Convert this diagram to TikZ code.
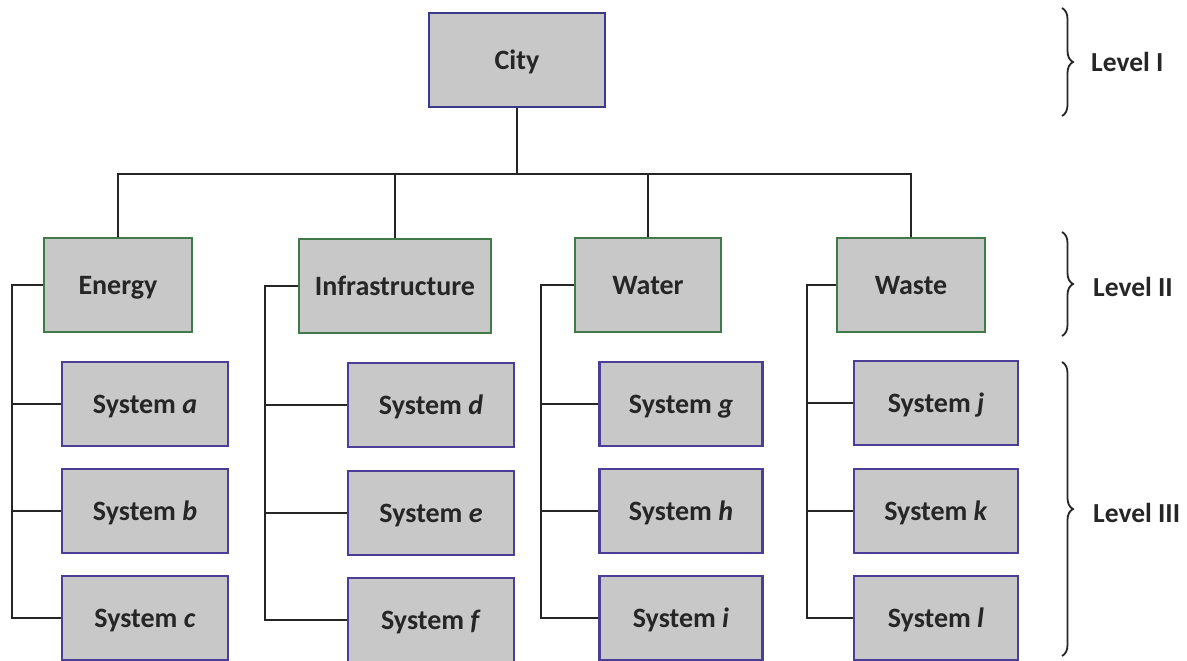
\documentclass[tikz,border=0pt]{standalone}
\usepackage{fontspec}
\setmainfont{Carlito}
\usetikzlibrary{decorations.pathreplacing}
\definecolor{boxfill}{HTML}{C9C8C9}
\definecolor{cityborder}{HTML}{3A3A8A}
\definecolor{lvltwo}{HTML}{3F7A48}
\definecolor{sysborder}{HTML}{4A3E96}
\definecolor{linec}{HTML}{252525}
\tikzset{
  basebox/.style={draw, fill=boxfill, line width=2.2pt, inner sep=0pt, text depth=0pt, font=\fontsize{28}{32}\selectfont\bfseries, text=black!85},
  citybox/.style={basebox, draw=cityborder, minimum width=176pt, minimum height=94pt},
  lvlbox/.style={basebox, draw=lvltwo, minimum height=94pt},
  sysbox/.style={basebox, draw=sysborder, minimum width=166pt, minimum height=84pt},
  conn/.style={draw=linec, line width=2.7pt},
  bracestyle/.style={draw=linec, line width=1.8pt, decorate, decoration={brace, amplitude=11pt}},
  lvllabel/.style={font=\fontsize{27.5}{32}\selectfont\bfseries, text=black!85, anchor=west, inner sep=0pt}
}
\begin{document}
\begin{tikzpicture}[x=1pt,y=-1pt]
\useasboundingbox (0,0) rectangle (1187,661);
% Level I
\node[citybox] (city) at (517,60) {City};
% Level II
\node[lvlbox, minimum width=148pt] (energy) at (118,285) {Energy};
\node[lvlbox, minimum width=192pt] (infra) at (395,286) {Infrastructure};
\node[lvlbox, minimum width=146pt] (water) at (648,285) {Water};
\node[lvlbox, minimum width=148pt] (waste) at (911,285) {Waste};
% Level III
\node[sysbox] (sa) at (145,404) {System \textit{a}};
\node[sysbox] (sb) at (145,511) {System \textit{b}};
\node[sysbox] (sc) at (145,618) {System \textit{c}};
\node[sysbox] (sd) at (431,405) {System \textit{d}};
\node[sysbox] (se) at (431,513) {System \textit{e}};
\node[sysbox] (sf) at (431,620) {System \textit{f}};
\node[sysbox, minimum width=163pt] (sg) at (681,404) {System \textit{g}};
\node[sysbox, minimum width=163pt] (sh) at (681,511) {System \textit{h}};
\node[sysbox, minimum width=163pt] (si) at (681,618) {System \textit{i}};
\node[sysbox, minimum width=164pt] (sj) at (936,403) {System \textit{j}};
\node[sysbox, minimum width=164pt] (sk) at (936,511) {System \textit{k}};
\node[sysbox, minimum width=164pt] (sl) at (936,618) {System \textit{l}};
% coordinates
\coordinate (hub) at (517,174);
\coordinate (bE) at (12,0);
\coordinate (bI) at (265,0);
\coordinate (bW) at (541,0);
\coordinate (bS) at (807,0);
% top tree
\draw[conn] (city.south) -- (hub);
\draw[conn] (energy.north) |- (hub);
\draw[conn] (waste.north) |- (hub);
\draw[conn] (infra.north) -- (infra.north |- hub);
\draw[conn] (water.north) -- (water.north |- hub);
% buses
\draw[conn] (energy.west) -- (bE |- energy.west) -- (bE |- sc.west) -- (sc.west);
\draw[conn] (bE |- sa.west) -- (sa.west);
\draw[conn] (bE |- sb.west) -- (sb.west);
\draw[conn] (infra.west) -- (bI |- infra.west) -- (bI |- sf.west) -- (sf.west);
\draw[conn] (bI |- sd.west) -- (sd.west);
\draw[conn] (bI |- se.west) -- (se.west);
\draw[conn] (water.west) -- (bW |- water.west) -- (bW |- si.west) -- (si.west);
\draw[conn] (bW |- sg.west) -- (sg.west);
\draw[conn] (bW |- sh.west) -- (sh.west);
\draw[conn] (waste.west) -- (bS |- waste.west) -- (bS |- sl.west) -- (sl.west);
\draw[conn] (bS |- sj.west) -- (sj.west);
\draw[conn] (bS |- sk.west) -- (sk.west);
% braces
\coordinate (b1t) at (1062,8);
\coordinate (b1b) at (1062,116);
\coordinate (b2t) at (1062,232);
\coordinate (b2b) at (1062,336);
\coordinate (b3t) at (1062,362);
\coordinate (b3b) at (1062,656);
\draw[bracestyle] (b1t) -- (b1b);
\draw[bracestyle] (b2t) -- (b2b);
\draw[bracestyle] (b3t) -- (b3b);
\node[lvllabel] (l1) at (1091,62) {Level I};
\node[lvllabel] (l2) at (1093,287) {Level II};
\node[lvllabel] (l3) at (1093,513) {Level III};
\end{tikzpicture}
\end{document}
